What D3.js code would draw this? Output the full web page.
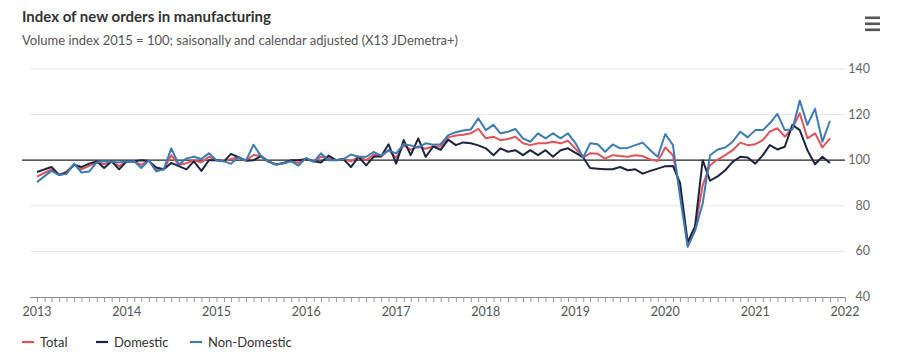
<!DOCTYPE html>
<html><head><meta charset="utf-8">
<script src="https://cdn.jsdelivr.net/npm/d3@7"></script>
<style>
html,body{margin:0;padding:0;background:#fff;}
svg{display:block;font-family:Lato,"Open Sans",sans-serif;}
</style></head>
<body><svg id="c" width="900" height="364"></svg>
<script>
const startMonth = "2013-01";
const endMonth = "2021-11";
const yearTicks = ["2013","2014","2015","2016","2017","2018","2019","2020","2021","2022"];
const yTicks = [40,60,80,100,120,140];
const seriesNames = ["Total","Domestic","Non-Domestic"];
const seriesColors = ["#e2535c","#1b2540","#3d7bb3"];

const total = [
 92.8,94.5,96,93.5,95,98,96,97.5,99,98.2,99.3,97.4,
 99.4,99.3,98,99.8,95.9,96,102.2,98,98.7,100,99,101.5,
 100,99.5,100.5,101.3,99.8,102.3,101.8,99.4,98.1,98.7,99.6,98.8,
 100.7,99.5,101.5,101,100,100.5,99.5,101.5,100,102.5,101.5,104.5,
 101,106.6,104.5,106,105,106,106,110,110.8,111.2,111.8,113.8,
 109.6,110.3,108.8,109.3,110.3,107.4,106.6,107.4,107.4,108.1,107.4,108.5,
 105,101.2,103,102.8,100.7,102.2,101.8,101.5,102.2,101.8,100.3,99.6,
 105.6,102.2,87,63,70,89,97.8,100.3,102.2,104.4,107.7,106.6,
 107,108.8,112.5,114,110.3,114,120.6,109.6,111.8,105.6,109.6];
const domestic = [
 94.8,96,97,93.5,94.5,98,97,98.5,99.5,96.6,99.5,96,
 99.5,99.5,100,99.7,96.8,96,98.8,97.4,96,99.5,95.3,100,
 100,99.5,102.8,101.3,99.8,100,101.8,99.4,98.1,98.8,100,100,
 100.5,99.5,99,102,100,100.5,97,101.5,97.7,101.5,101.7,107,
 98.5,108.8,102.2,109.6,101.5,106,104.5,109,106.6,107.8,107.4,106.5,
 105.2,102.2,105.2,103.7,104.4,102.2,104.4,102.2,104.4,101.5,104.4,105.2,
 103.2,101.2,96.6,96.3,96,96,97,95.6,96,94.1,95.3,96.3,
 97.4,97.5,90,64,71,100,91,92.9,95.6,99.3,101.5,101.2,
 98.5,102.2,106.6,104.7,105.9,115.5,113.2,104.4,98.2,101.5,98.8];
const nonDomestic = [
 90.4,93,95.3,93.5,94,98.5,94.6,95,99,99.5,99.3,99,
 99.4,99.5,96.6,100,95.1,96,105.2,98.1,100.8,101.5,100.5,103,
 100,99.5,98.4,101.3,99.8,106.8,101.8,99.4,98.1,98.7,99.5,97.6,
 101,99.3,103,100,100,100.5,102.5,101.5,101.5,103.6,102,104.3,
 103,107,106.5,105.5,107.4,106.8,107,111,112.3,113,113.5,118.4,
 113.2,115.5,111.8,112.5,113.7,109.6,108.1,111.8,109.6,111.8,109.6,111.8,
 107.4,101.2,107.4,107,103.7,106.9,105.2,105.4,106.6,107.7,104.4,101.5,
 111.5,106.6,84,62,69,81,102.2,104.7,105.6,108.1,112.5,110,
 113.2,113.2,116.2,120.3,113.2,113.5,126.2,115.5,122.5,108.1,117.3];

const parseM = d3.timeParse("%Y-%m");
const parseY = d3.timeParse("%Y");
const months = d3.timeMonth.range(parseM(startMonth), d3.timeMonth.offset(parseM(endMonth),1));
const seriesValues = [total, domestic, nonDomestic];

const svg = d3.select("#c");
const x = d3.scaleTime().domain([parseY(yearTicks[0]), parseY(yearTicks[yearTicks.length-1])]).range([37, 845]);
const y = d3.scaleLinear().domain([40,140]).range([297, 69]);

// title
svg.append("text").attr("x",22).attr("y",22).attr("font-size",15).attr("font-weight",700).attr("fill","#333")
  .text("Index of new orders in manufacturing");
svg.append("text").attr("x",22).attr("y",45).attr("font-size",13).attr("fill","#555")
  .text("Volume index 2015 = 100; saisonally and calendar adjusted (X13 JDemetra+)");

// menu icon
[18,24,30].forEach(v=>svg.append("rect").attr("x",865).attr("y",v-1.5).attr("width",15).attr("height",2.6).attr("fill","#555"));

// gridlines
svg.append("g").selectAll("line").data(yTicks.filter(t=>t!==40 && t!==100)).join("line")
  .attr("x1",30).attr("x2",845).attr("y1",d=>y(d)).attr("y2",d=>y(d)).attr("stroke","#e6e6e6").attr("stroke-width",1);

// y labels
svg.append("g").selectAll("text").data(yTicks).join("text")
  .attr("x",870).attr("y",d=>y(d)+4).attr("text-anchor","end").attr("font-size",12.5).attr("fill","#666").text(d=>d);

// x axis
const xAxis = d3.axisBottom(x).ticks(d3.timeMonth.every(1)).tickSize(5).tickFormat("");
const gx = svg.append("g").attr("transform","translate(0,297)").call(xAxis);
gx.select(".domain").attr("stroke","#888").attr("d","M30,0.5H845");
gx.selectAll(".tick line").attr("stroke","#999");
svg.append("g").selectAll("text").data(yearTicks).join("text")
  .attr("x",d=>x(parseY(d))).attr("y",316).attr("text-anchor","middle").attr("font-size",12.5).attr("fill","#555").text(d=>d);

// 100 reference line
svg.append("line").attr("x1",22).attr("x2",845).attr("y1",y(100)).attr("y2",y(100)).attr("stroke","#222").attr("stroke-width",1.2);

// lines
const line = d3.line().x((d,i)=>x(months[i])).y(d=>y(d));
seriesValues.forEach((vals,k)=>{
  svg.append("path").datum(vals).attr("d",line).attr("fill","none")
    .attr("stroke",seriesColors[k]).attr("stroke-width",2).attr("stroke-linejoin","round");
});

// legend
const legX = [22,96,190];
seriesNames.forEach((n,k)=>{
  svg.append("line").attr("x1",legX[k]).attr("x2",legX[k]+12).attr("y1",342).attr("y2",342)
    .attr("stroke",seriesColors[k]).attr("stroke-width",2.2);
  svg.append("text").attr("x",legX[k]+18).attr("y",346.5).attr("font-size",13).attr("fill","#333").text(n);
});
</script></body></html>
